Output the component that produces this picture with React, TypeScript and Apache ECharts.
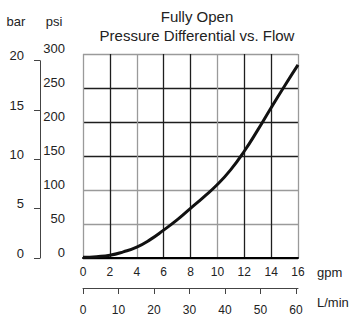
import React, { useEffect, useRef } from "react";
import * as echarts from "echarts";

// Flow (gpm) vs. pressure drop (psi), fully open valve
const FLOW_GPM = [0, 1, 2, 3, 4, 5, 6, 7, 8, 9, 10, 11, 12, 13, 14, 15, 16];
const DROP_PSI = [1, 2, 4, 9, 16, 27, 41, 56, 73, 90, 108, 130, 157, 188, 221, 253, 284];

const TITLE_LINES = ["Fully Open", "Pressure Differential vs. Flow"];
const UNIT_BAR = "bar";
const UNIT_PSI = "psi";
const UNIT_GPM = "gpm";
const UNIT_LMIN = "L/min";

const LMIN_PER_GPM = 3.785411784;
const PSI_PER_BAR = 14.5038;

const GPM_MAX = 16;
const PSI_MAX = 300;
const BAR_TOP_VALUE = 20;

// Grid colour pattern (dark / light) for the vertical and horizontal rules
const DARK = "#1e1e1e";
const LIGHT = "#9a9a9a";
const X_RULES = [LIGHT, DARK, LIGHT, DARK, DARK, LIGHT, DARK, DARK, LIGHT];
const Y_RULES = [DARK, LIGHT, LIGHT, DARK, DARK, DARK, LIGHT];

const FONT = "'Liberation Sans Narrow', 'Liberation Sans', Arial, sans-serif";
const INK = "#222";

export default function App() {
  const ref = useRef<HTMLDivElement>(null);

  useEffect(() => {
    if (!ref.current) return;
    const chart = echarts.init(ref.current, undefined, { renderer: "svg" });

    const gridLeft = 83;
    const gridTop = 54;
    const gridW = 215;
    const gridH = 204;
    const gridBottom = gridTop + gridH;
    const barTop = gridTop + gridH * (1 - (BAR_TOP_VALUE * PSI_PER_BAR) / PSI_MAX);

    const data = FLOW_GPM.map((g, i) => [g, DROP_PSI[i]]);

    const unitText = (text: string, x: number, y: number, align: string) => ({
      type: "text",
      x,
      y,
      style: {
        text,
        fontFamily: FONT,
        fontSize: 13,
        fill: INK,
        align,
        verticalAlign: "middle",
      },
    });

    chart.setOption({
      animation: false,
      title: {
        text: TITLE_LINES.join("\n"),
        left: 192,
        top: 2,
        textAlign: "center",
        textStyle: {
          fontFamily: FONT,
          fontSize: 15,
          fontWeight: "normal",
          color: INK,
          lineHeight: 19,
        },
      },
      grid: [
        {
          left: gridLeft,
          top: gridTop,
          width: gridW,
          height: gridH,
          containLabel: false,
          outerBoundsMode: "none",
        },
        {
          left: 40,
          top: barTop,
          width: 1,
          height: gridBottom - barTop,
          containLabel: false,
          outerBoundsMode: "none",
        },
      ],
      xAxis: [
        {
          type: "value",
          gridIndex: 0,
          min: 0,
          max: GPM_MAX,
          interval: 2,
          position: "bottom",
          axisLine: { show: true, lineStyle: { color: "#000", width: 2 } },
          axisTick: { show: false },
          axisLabel: {
            margin: 8,
            fontFamily: FONT,
            fontSize: 12,
            color: INK,
          },
          splitLine: { show: true, lineStyle: { color: X_RULES, width: 1.3 } },
        },
        {
          type: "value",
          gridIndex: 0,
          min: 0,
          max: GPM_MAX * LMIN_PER_GPM,
          interval: 10,
          position: "bottom",
          offset: 30,
          axisLine: { show: true, lineStyle: { color: "#444", width: 1 } },
          axisTick: { show: true, inside: false, length: 6, lineStyle: { color: "#444" } },
          axisLabel: {
            margin: 16,
            fontFamily: FONT,
            fontSize: 12,
            color: INK,
          },
          splitLine: { show: false },
        },
        { type: "value", gridIndex: 1, show: false, min: 0, max: 1 },
      ],
      yAxis: [
        {
          type: "value",
          gridIndex: 0,
          min: 0,
          max: PSI_MAX,
          interval: 50,
          position: "left",
          axisLine: { show: false },
          axisTick: { show: false },
          axisLabel: {
            margin: 18,
            fontFamily: FONT,
            fontSize: 13,
            color: INK,
            verticalAlign: "bottom",
            lineHeight: 12,
          },
          splitLine: { show: true, lineStyle: { color: Y_RULES, width: 1.3 } },
        },
        {
          type: "value",
          gridIndex: 1,
          min: 0,
          max: BAR_TOP_VALUE,
          interval: 5,
          position: "left",
          axisLine: { show: true, lineStyle: { color: "#444", width: 1 } },
          axisTick: { show: true, inside: false, length: 6, lineStyle: { color: "#444" } },
          axisLabel: {
            margin: 16,
            fontFamily: FONT,
            fontSize: 13,
            color: INK,
            verticalAlign: "bottom",
            lineHeight: 10,
          },
          splitLine: { show: false },
        },
      ],
      series: [
        {
          type: "line",
          xAxisIndex: 0,
          yAxisIndex: 0,
          data,
          smooth: true,
          showSymbol: false,
          lineStyle: { color: "#111", width: 3 },
        },
      ],
      graphic: [
        unitText(UNIT_BAR, 16, 21, "center"),
        unitText(UNIT_PSI, 54, 21, "center"),
        unitText(UNIT_GPM, 317, 272, "left"),
        unitText(UNIT_LMIN, 317, 302, "left"),
      ],
    });

    return () => chart.dispose();
  }, []);

  return (
    <div
      ref={ref}
      style={{ position: "fixed", left: 0, top: 0, width: 349, height: 322, background: "#fff" }}
    />
  );
}
